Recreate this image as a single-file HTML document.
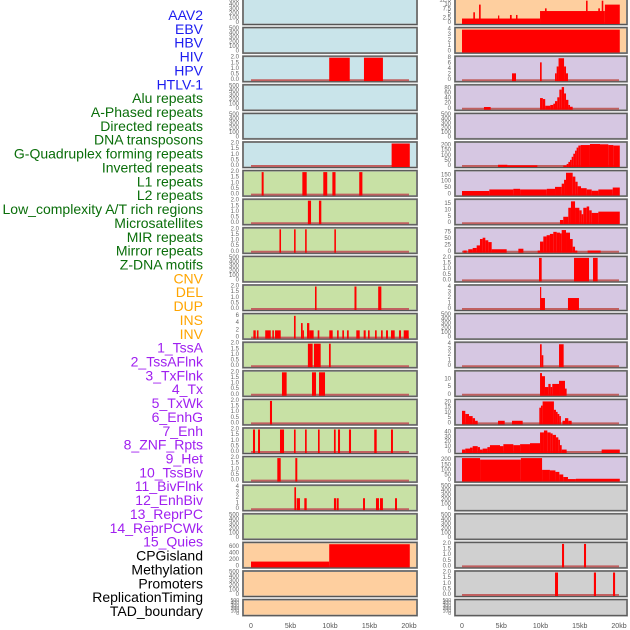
<!DOCTYPE html>
<html><head><meta charset="utf-8"><style>
html,body{margin:0;padding:0;background:#fff;}
svg{display:block;font-family:"Liberation Sans",sans-serif;}
</style></head><body>
<svg id="chart" width="630" height="630" viewBox="0 0 630 630" xmlns="http://www.w3.org/2000/svg">
<g id="labels"></g>
<g id="panels"></g>
<g id="xaxes"></g>
</svg>
<script>
const labelNames = ["AAV2","EBV","HBV","HIV","HPV","HTLV-1","Alu repeats","A-Phased repeats","Directed repeats","DNA transposons","G-Quadruplex forming repeats","Inverted repeats","L1 repeats","L2 repeats","Low_complexity A/T rich regions","Microsatellites","MIR repeats","Mirror repeats","Z-DNA motifs","CNV","DEL","DUP","INS","INV","1_TssA","2_TssAFlnk","3_TxFlnk","4_Tx","5_TxWk","6_EnhG","7_Enh","8_ZNF_Rpts","9_Het","10_TssBiv","11_BivFlnk","12_EnhBiv","13_ReprPC","14_ReprPCWk","15_Quies","CPGisland","Methylation","Promoters","ReplicationTiming","TAD_boundary"];
const labelGroups = [6,13,5,15,5];
const groupColors = ["#1c1cf0","#0a6e0a","#ffa500","#a020f0","#000000"];

const xTickValues = [0,5,10,15,20];
const xTickLabels = ["0","5kb","10kb","15kb","20kb"];

const T500 = [0,100,200,300,400,500];
const T2 = [0,0.5,1.0,1.5,2.0];

// segments: [startKb, endKb, value]
const L0 = [], L1 = [];
const L2 = [[9.9,12.5,2],[14.3,16.7,2]];
const L3 = [], L4 = [];
const L5 = [[17.8,20.1,2]];
const L6 = [[1.35,1.6,2],[6.5,7.05,2],[9.15,9.65,2],[10.3,10.7,2],[13.7,14.1,2]];
const L7 = [[7.2,7.6,2],[8.6,8.9,2]];
const L8 = [[3.6,3.8,2],[5.45,5.65,2],[6.85,7.05,2],[10.55,10.75,2]];
const L9 = [];
const L10 = [[8.1,8.3,2],[13.1,13.35,2],[16.1,16.5,2]];
const L11 = [[0.3,0.6,2],[0.75,0.95,2],[1.8,2.5,2],[2.7,2.9,2],[3.04,3.76,2],[5.44,5.65,6],[6.33,6.54,4],[6.54,6.7,2],[7.09,7.38,4],[7.38,7.93,2],[8.44,8.65,2],[9.91,10.34,2],[10.89,11.1,2],[11.56,11.77,2],[12.15,12.37,2],[13.33,13.76,2],[14.26,14.52,2],[14.81,15.02,2],[15.7,15.91,2],[16.46,16.67,2],[17.09,17.34,2],[17.72,18.19,2],[18.73,18.99,2],[19.33,19.96,2]];
const L12 = [[7.2,7.8,2],[7.97,8.82,2],[9.87,10.09,2]];
const L13 = [[3.92,4.51,2],[7.72,8.23,2],[8.61,9.37,2]];
const L14 = [[2.4,2.66,2]];
const L15 = [[0.25,0.51,2],[0.89,1.14,2],[3.67,4.18,2],[5.44,5.65,2],[6.84,7.05,2],[8.48,8.69,2],[10.5,10.72,2],[11.01,11.27,2],[12.4,12.66,2],[15.6,15.91,2],[17.72,17.97,2]];
const L16 = [[3.33,3.76,2],[5.61,5.86,2]];
const L17 = [[5.49,5.7,4],[5.78,6.2,2],[6.75,7.05,2],[10.5,10.76,2],[10.84,11.1,2],[14.18,14.43,2],[15.82,16.2,2],[16.33,16.7,2],[18.23,18.48,2]];
const L18 = [];
const L19 = [[0,9.9,150],[9.9,20.1,690]];
const L20 = [], L21 = [];

const R0 = [[0,9.94,2.5],[1.44,1.65,6],[2.17,2.38,10.3],[4.59,4.75,4.2],[6.11,6.33,4.5],[6.88,7.07,4.5],[9.94,18.2,6.7],[10.57,10.78,8.2],[15.8,16.0,12.5],[17.36,17.57,8.2],[17.8,18.0,12.5],[18.2,20.1,10.3]];
const R1 = [[0,20.1,4]];
const R2 = [[6.37,6.88,2.5],[9.94,10.15,6.5],[11.85,12.06,2.5],[12.06,12.3,5],[12.3,13.0,8],[13.0,13.25,5],[13.25,13.5,2.5]];
const R3 = [[2.8,3.65,7],[9.94,10.3,42],[10.3,10.6,38],[10.6,11.25,12],[11.25,11.63,15],[11.63,11.85,20],[11.85,12.14,30],[12.14,12.4,45],[12.4,12.7,75],[12.7,13.0,85],[13.0,13.25,60],[13.25,13.55,35],[13.55,13.76,15],[13.76,14.1,8]];
const R4 = [];
const R5 = [[4.59,5.78,12],[5.78,9.6,6],[12.9,13.33,5],[13.33,13.55,20],[13.55,13.76,40],[13.76,13.97,60],[13.97,14.18,90],[14.18,14.4,120],[14.4,14.6,150],[14.6,14.82,180],[14.82,15.12,200],[15.12,16.3,205],[16.3,17.58,215],[17.58,18.64,212],[18.64,19.28,205],[19.28,20.1,200]];
const R6 = [[0,3.48,28],[3.48,6.54,40],[6.54,7.4,45],[7.4,10.8,40],[10.8,11.85,45],[11.85,12.7,60],[12.7,13.0,85],[13.0,13.25,115],[13.25,14.1,170],[14.1,14.44,140],[14.44,14.73,100],[14.73,15.16,65],[15.16,15.88,50],[15.88,16.52,40],[16.52,17.37,30],[17.37,19.2,40],[19.2,20.1,55]];
const R7 = [[12.48,12.9,2.5],[12.9,13.54,5],[13.54,13.88,12],[13.88,14.4,17],[14.4,14.95,12],[14.95,15.24,10],[15.24,15.45,7],[15.45,15.88,12],[15.88,16.2,13],[16.2,16.52,10],[16.52,17.37,8],[17.37,20.1,9]];
const R8 = [[0.17,0.6,5],[0.8,1.36,10],[1.36,1.87,15],[1.87,2.29,25],[2.29,2.63,50],[2.63,2.97,55],[2.97,3.35,45],[3.35,3.78,38],[3.78,5.69,10],[7.18,7.82,12],[9.64,9.94,5],[9.94,10.36,40],[10.36,10.78,60],[10.78,11.2,65],[11.2,11.63,70],[11.63,12.06,78],[12.06,12.48,75],[12.48,12.7,72],[12.7,13.25,85],[13.25,13.76,75],[13.76,14.1,50],[14.1,14.4,20],[14.4,14.69,5],[16.0,17.66,5]];
const R9 = [[9.81,10.15,2],[14.27,16.18,2],[16.69,17.28,2]];
const R10 = [[9.94,10.06,4],[10.06,10.57,2],[13.5,14.9,2]];
const R11 = [];
const R12 = [[9.94,10.15,4],[10.15,10.36,2],[12.36,12.95,4]];
const R13 = [[9.94,10.19,14],[10.19,10.57,12],[10.57,11.0,5],[11.0,11.29,7],[11.29,11.5,5],[11.5,12.36,7],[12.36,13.12,9],[13.12,13.33,4]];
const R14 = [[0,0.42,12],[0.42,0.89,9],[0.89,1.36,7],[1.36,1.66,5],[1.66,2.0,2.5],[4.59,5.44,2.5],[6.37,7.73,2.5],[9.85,10.06,15],[10.06,10.27,17],[10.27,11.71,21],[11.71,11.97,13],[11.97,12.18,11],[12.18,12.4,9],[12.4,12.6,7],[12.8,13.12,2.5],[13.12,13.54,5],[13.54,13.97,2.5]];
const R15 = [[0,0.42,5],[0.42,1.02,7],[1.02,1.36,9],[1.36,2.0,12],[2.0,2.29,10],[2.29,2.63,5],[2.63,3.23,7],[3.23,3.56,10],[3.56,4.84,14],[4.84,5.27,12],[5.27,6.54,16],[6.54,7.4,14],[7.4,8.66,16],[8.66,9.94,18],[9.94,10.44,40],[10.44,10.87,44],[10.87,11.29,40],[11.29,11.55,38],[11.55,11.97,35],[11.97,12.27,30],[12.27,12.48,25],[12.48,12.7,14],[12.7,13.33,5],[17.79,20.1,5]];
const R16 = [[0,2.3,240],[2.3,7.5,205],[7.5,10.2,240],[10.2,11.2,105],[11.2,11.9,100],[11.9,12.4,85],[12.4,12.9,60],[12.9,13.5,35],[13.5,14.5,15],[14.5,20.1,18]];
const R17 = [], R18 = [];
const R19 = [[12.74,13.0,2],[15.54,15.8,2]];
const R20 = [[11.85,12.23,2],[16.8,17.07,2],[19.24,19.5,2]];
const R21 = [];

const leftSegs = [L0,L1,L2,L3,L4,L5,L6,L7,L8,L9,L10,L11,L12,L13,L14,L15,L16,L17,L18,L19,L20,L21];
const rightSegs = [R0,R1,R2,R3,R4,R5,R6,R7,R8,R9,R10,R11,R12,R13,R14,R15,R16,R17,R18,R19,R20,R21];
const leftNames = ["AAV2","EBV","HIV","Alu-repeats","Directed-repeats","G-quadruplex","L1-repeats","Low-complexity","MIR-repeats","Z-DNA","DEL","INS","1-TssA","3-TxFlnk","5-TxWk","7-Enh","9-Het","11-BivFlnk","13-ReprPC","CPGisland","Promoters","TAD-boundary"];
const rightNames = ["HBV","HPV","HTLV-1","A-Phased-repeats","DNA-transposons","Inverted-repeats","L2-repeats","Microsatellites","Mirror-repeats","CNV","DUP","INV","2-TssAFlnk","4-Tx","6-EnhG","8-ZNF-Rpts","10-TssBiv","12-EnhBiv","14-ReprPCWk","15-Quies","Methylation","ReplicationTiming"];
const leftTicks = [T500,T500,T2,T500,T500,T2,T2,T2,T2,T500,T2,[0,2,4,6],T2,T2,T2,T2,T2,[0,1,2,3,4],T500,[0,200,400,600],T500,T500];
const rightTicks = [[0,2.5,5.0,7.5,10.0,12.5],[0,1,2,3,4],[0,2,4,6,8],[0,20,40,60,80],T500,[0,50,100,150,200],[0,50,100,150],[0,5,10,15],[0,25,50,75],T2,[0,1,2,3,4],T500,[0,1,2,3,4],[0,5,10],[0,5,10,15,20],[0,10,20,30,40],[0,50,100,150,200],T500,T500,T2,T2,T500];
const leftMax = [500,500,2,500,500,2,2,2,2,500,2,6.2,2,2,2,2,2,4.1,500,700,500,500];
const rightMax = [12.6,4.1,8.2,88,500,220,175,17.5,88,2,4.1,500,4.1,14.5,21.5,46,220,500,500,2,2,500];
const leftBg = r => r<6 ? "#c9e4ea" : (r<19 ? "#c8e1a5" : "#fecf9f");
const rightBg = r => r<2 ? "#fecf9f" : (r<17 ? "#d6c7e2" : "#d0d0d0");

const NS = "http://www.w3.org/2000/svg";
function mk(tag, attrs, parent){const e=document.createElementNS(NS,tag);for(const k in attrs)e.setAttribute(k,attrs[k]);parent.appendChild(e);return e;}

const lg = document.getElementById('labels');
let idx = 0;
labelGroups.forEach((n,g)=>{for(let i=0;i<n;i++){
  const t = mk('text',{x:203,y:15+idx*13.86,'text-anchor':'end','dominant-baseline':'central','font-size':'14',fill:groupColors[g]},lg);
  t.textContent = labelNames[idx];
  
  
  idx++;
}});

const cols = [
  {x0:243,x1:417,origin:251,scale:7.9,segs:leftSegs,names:leftNames,ticks:leftTicks,max:leftMax,bg:leftBg,tx:239,side:'left'},
  {x0:455,x1:627,origin:462,scale:7.85,segs:rightSegs,names:rightNames,ticks:rightTicks,max:rightMax,bg:rightBg,tx:451,side:'right'}
];
const pg = document.getElementById('panels');
cols.forEach(c=>{
  const xs = kb => c.origin + kb*c.scale;
  for(let r=0;r<22;r++){
    const T = -1 + r*28.6;
    const H = r===21 ? 16 : 25.5;
    const g = mk('g',{},pg);
    
    
    mk('rect',{x:c.x0,y:T,width:c.x1-c.x0,height:H,fill:c.bg(r),stroke:'#9a9a9a','stroke-width':2},g);
    const ymax = c.max[r];
    const ys = v => T + H - 1.5 - Math.min(v,ymax)/ymax*(H-3);
    const hasData = ymax !== 500;
    if(hasData){
      const bl = mk('line',{x1:xs(0),x2:xs(20),y1:ys(0),y2:ys(0),stroke:'#c06060','stroke-width':2},g);
      
      
    }
    c.segs[r].forEach(s=>{
      const y = ys(s[2]);
      const b = mk('rect',{x:xs(s[0]),y:y,width:Math.max(1.2,xs(s[1])-xs(s[0])),height:ys(0)-y+1,fill:'#ff0000'},g);
      
      
    });
    mk('rect',{x:c.x0,y:T,width:c.x1-c.x0,height:H,fill:'none',stroke:'#555','stroke-width':1},g);
    c.ticks[r].forEach(tv=>{
      const t = mk('text',{x:c.tx,y:ys(tv),'text-anchor':'end','dominant-baseline':'central','font-size':(r===21?'5':'6'),fill:'#666'},g);
      t.textContent = (c.ticks[r]===T2 ? tv.toFixed(1) : (Number.isInteger(tv)?String(tv):tv.toFixed(1)));
      
      
    });
  }
  const xg = document.getElementById('xaxes');
  xTickValues.forEach((v,i)=>{
    const t = mk('text',{x:xs(v),y:628,'text-anchor':'middle','font-size':'7',fill:'#555'},xg);
    t.textContent = xTickLabels[i];
    
    
  });
});
</script>
</body></html>
